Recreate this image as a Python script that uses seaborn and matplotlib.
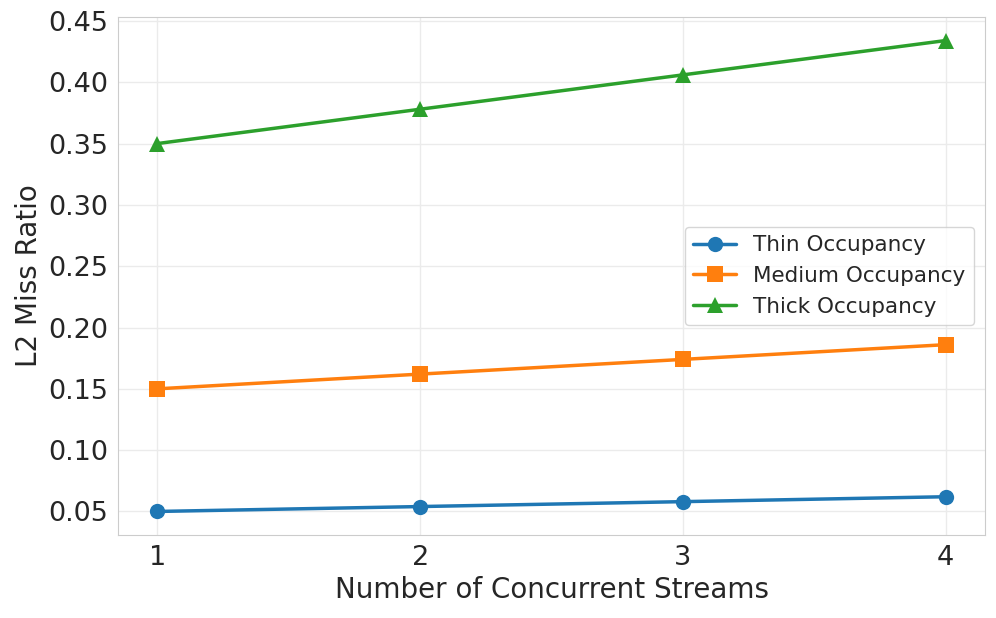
import matplotlib
matplotlib.use('Agg')
import matplotlib.pyplot as plt
import pandas as pd
import seaborn as sns

# Data
streams = [1, 2, 3, 4]
thin = [0.050, 0.054, 0.058, 0.062]
medium = [0.150, 0.162, 0.174, 0.186]
thick = [0.350, 0.378, 0.406, 0.434]
labels = ['Thin Occupancy', 'Medium Occupancy', 'Thick Occupancy']
markers = ['o', 's', '^']

df = pd.DataFrame({
    'streams': streams * 3,
    'ratio': thin + medium + thick,
    'occupancy': [labels[0]] * 4 + [labels[1]] * 4 + [labels[2]] * 4,
})

sns.set_style('whitegrid')
plt.rcParams['font.family'] = ['DejaVu Sans']

fig, ax = plt.subplots(figsize=(9.96, 6.18), dpi=100)
palette = sns.color_palette('tab10', 3)
for lab, mk, col in zip(labels, markers, palette):
    sub = df[df['occupancy'] == lab]
    sns.lineplot(x='streams', y='ratio', data=sub, ax=ax, marker=mk, color=col,
                 linewidth=2.5, markersize=11, markeredgewidth=0, label=lab)

ax.set_xticks(streams)
ax.set_xlabel('Number of Concurrent Streams', fontsize=20)
ax.set_ylabel('L2 Miss Ratio', fontsize=20)
ax.tick_params(axis='both', labelsize=19.5)
ax.grid(True, color='#ebebeb', linewidth=1)
for s in ax.spines.values():
    s.set_color('#cccccc')
ax.legend(loc='center right', fontsize=15.5, frameon=True)

fig.subplots_adjust(left=0.1185, right=0.989, top=0.9725, bottom=0.1343)
fig.savefig('out.png', dpi=100)
